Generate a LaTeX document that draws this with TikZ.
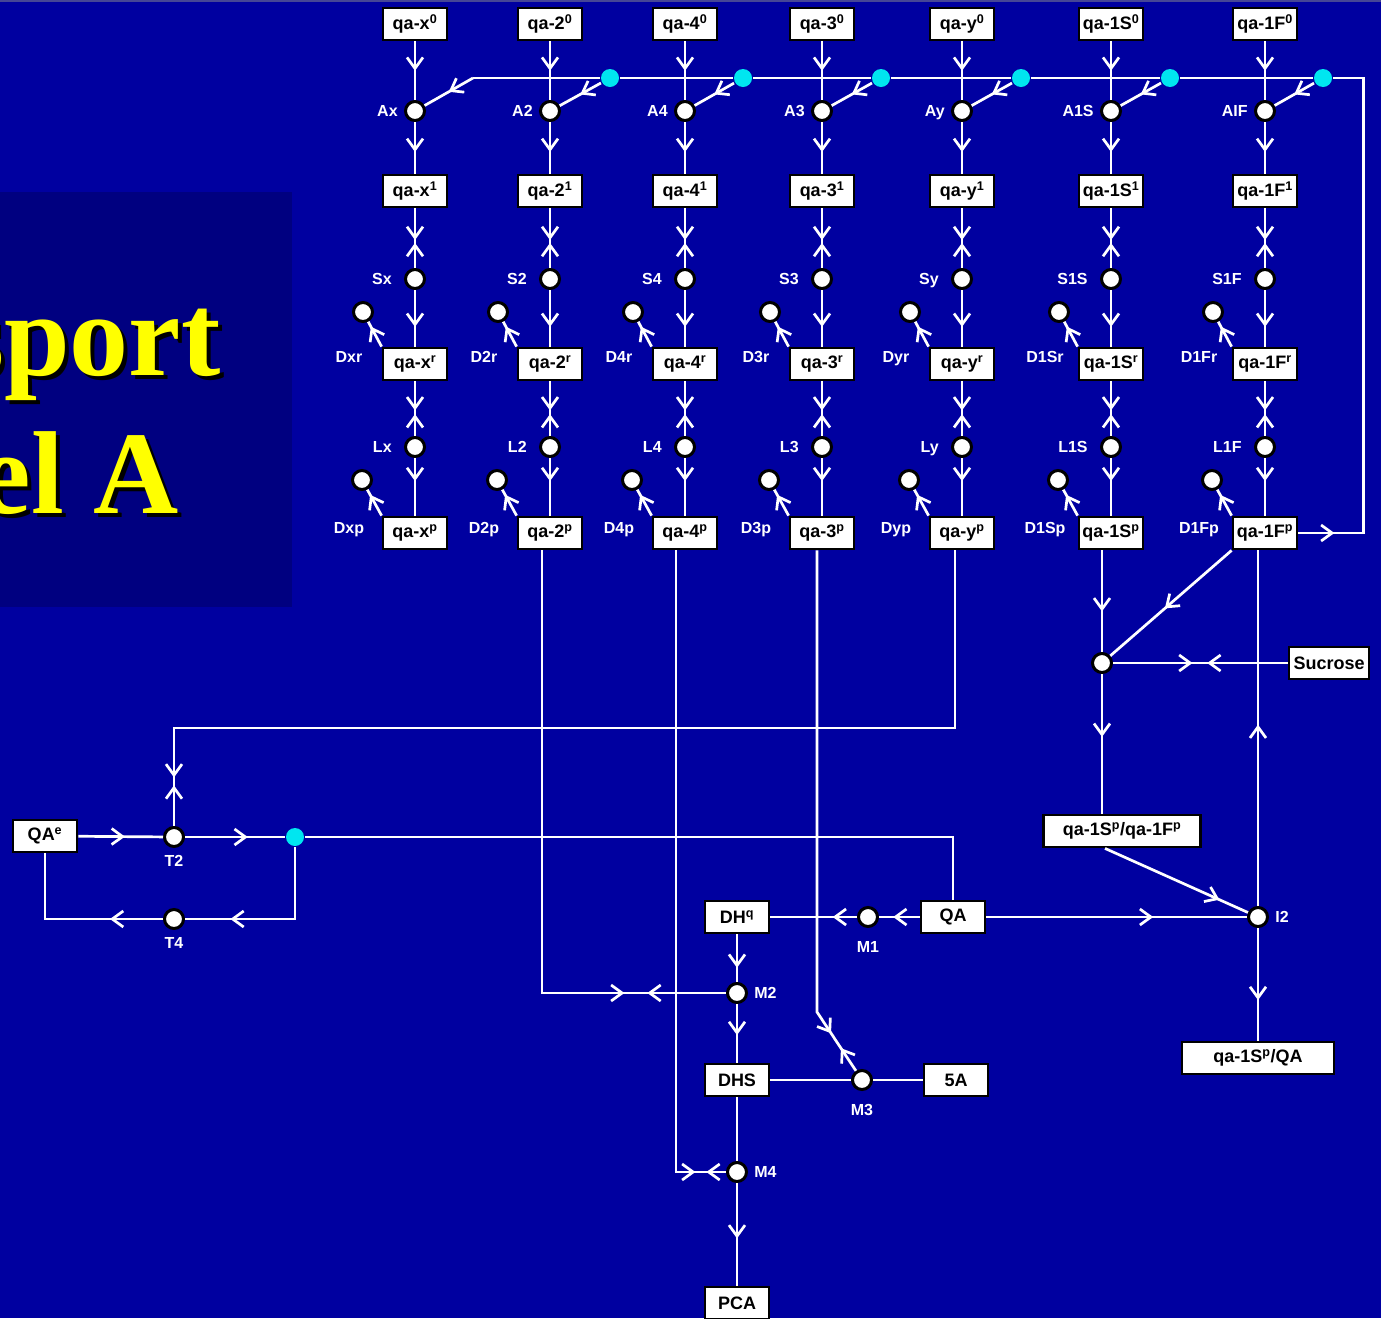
\documentclass[tikz,border=0pt]{standalone}
\usepackage{fontspec}
\setmainfont{Liberation Sans}
\newfontfamily\titlefont{Liberation Serif}
\usetikzlibrary{arrows.meta,decorations.markings}

\definecolor{slide}{RGB}{0,0,160}
\definecolor{panel}{RGB}{0,0,128}
\definecolor{edge}{RGB}{70,70,150}
\definecolor{cyanjn}{RGB}{0,230,240}
\definecolor{ttl}{RGB}{255,255,0}

\tikzset{
  fl/.style={postaction={decorate,decoration={markings,mark=at position #1 with {\arrow{>}}}}},
  rl/.style={postaction={decorate,decoration={markings,mark=at position #1 with {\arrowreversed{>}}}}},
  conv/.style 2 args={fl=#1, rl=#2},
}

\begin{document}
\begin{tikzpicture}[x=1pt, y=-1pt, line width=2.7pt, white,
    >={Straight Barb[length=11pt,width=16pt]},
    box/.style={draw=black, fill=white, text=black, line width=2.8pt, minimum width=64pt,
      minimum height=32pt, inner sep=3pt, font=\fontsize{18}{20}\selectfont\bfseries},
    dot/.style={circle, draw=black, fill=white, line width=3pt, minimum size=19pt, inner sep=0pt},
    junc/.style={circle, fill=cyanjn, minimum size=18pt, inner sep=0pt},
    lab/.style={text=white, inner sep=2pt, text height=11.5pt, text depth=0pt,
      font=\fontsize{16}{18}\selectfont\bfseries},
    la/.style={label={[lab,xshift=-3pt]left:#1}},
    ll/.style={label={[lab,xshift=-9pt]left:#1}},
    rr/.style={label={[lab,xshift=3pt]right:#1}},
    bb/.style={label={[lab,yshift=-10pt]below:#1}},
    bt/.style={label={[lab,yshift=-4pt]below:#1}},
    big/.style={anchor=base east, inner sep=0pt, font=\titlefont\fontsize{118}{126}\selectfont\bfseries}]
  \useasboundingbox (0,0) rectangle (1381,1318);
  \fill[slide] (0,0) rectangle (1381,1318);
  \fill[edge] (0,0) rectangle (1381,2);
  \fill[panel] (0,192) rectangle (292,607);

  % title
  \node[big, text=black] at (226,379) {sport};
  \node[big, text=ttl] (t1) at (222,375) {sport};
  \node[big, text=black] at (184,517) {el A};
  \node[big, text=ttl] (t2) at (180,513) {el A};

  % the seven gene columns
  \foreach \cx/\k/\ak/\jx/\js in {415/x/x/473/coordinate, 550/2/2/610/junc, 685/4/4/743/junc,
      822/3/3/881/junc, 962/y/y/1021/junc, 1111/1S/1S/1170/junc, 1265/1F/IF/1323/junc} {
    \node[box] (b0\k) at (\cx,24) {qa-\k\textsuperscript{0}};
    \node[dot, la=A\ak] (A\k) at (\cx,111) {};
    \node[box] (b1\k) at (\cx,191) {qa-\k\textsuperscript{1}};
    \node[dot, ll=S\k] (S\k) at (\cx,279) {};
    \node[box] (br\k) at (\cx,364) {qa-\k\textsuperscript{r}};
    \node[dot, ll=L\k] (L\k) at (\cx,447) {};
    \node[box] (bp\k) at (\cx,533) {qa-\k\textsuperscript{p}};
    \node[dot] (Dr\k) at (\cx-52,312) {};
    \node[lab] (lDr\k) at (\cx-66,357) {D\k r};
    \node[dot] (Dp\k) at (\cx-53,480) {};
    \node[lab] (lDp\k) at (\cx-66,528) {D\k p};
    \node[\js] (j\k) at (\jx,78) {};
    \draw[fl=0.5] (b0\k) -- (A\k);
    \draw[fl=0.58] (A\k) -- (b1\k);
    \draw[conv={0.53}{0.58}] (b1\k) -- (S\k);
    \draw[fl=0.65] (S\k) -- (br\k);
    \draw[conv={0.53}{0.6}] (br\k) -- (L\k);
    \draw[fl=0.4] (L\k) -- (bp\k);
    \draw[fl=0.8] (br\k.north west) -- (Dr\k);
    \draw[fl=0.8] (bp\k.north west) -- (Dp\k);
    \draw[fl=0.5] (j\k) -- (A\k);
  }
  \draw[fl=36pt] (bp1F.east) -- ++(65,0) |- (j1F);
  \draw (j1F) -- (j1S) -- (jy) -- (j3) -- (j4) -- (j2) -- (jx);

  % lower network
  \node[dot] (J) at (1102,663) {};
  \node[box, minimum width=80pt] (suc) at (1329,663) {Sucrose};
  \node[box, minimum width=157pt] (spf) at (1122,831) {qa-1S\textsuperscript{p}/qa-1F\textsuperscript{p}};
  \node[dot, rr=I2] (I2) at (1258,917) {};
  \node[box, minimum width=152pt] (spqa) at (1258,1058) {qa-1S\textsuperscript{p}/QA};
  \node[box] (QA) at (953,917) {QA};
  \node[dot, bb=M1] (M1) at (868,917) {};
  \node[box] (DHq) at (737,917) {DH\textsuperscript{q}};
  \node[dot, rr=M2] (M2) at (737,993) {};
  \node[box] (DHS) at (737,1080) {DHS};
  \node[dot, bb=M3] (M3) at (862,1080) {};
  \node[box] (sA) at (956,1080) {5A};
  \node[dot, rr=M4] (M4) at (737,1172) {};
  \node[box] (PCA) at (737,1303) {PCA};
  \node[box] (QA0) at (45,836) {QA\textsuperscript{e}};
  \node[dot, bt=T2] (T2) at (174,837) {};
  \node[dot, bt=T4] (T4) at (174,919) {};
  \node[junc] (jT) at (295,837) {};

  \draw[fl=0.6] (bp1S.south -| J) -- (J);
  \draw[fl=0.55] (bp1F.south west) -- (J);
  \draw[fl=0.51] (I2) -- (I2 |- bp1F.south);
  \draw[conv={0.455}{0.54}] (J) -- (suc);
  \draw[fl=0.45] (J) -- (J |- spf.north);
  \draw[fl=0.8] (1105,0 |- spf.south) -- (I2);
  \draw[fl=0.64] (QA) -- (I2);
  \draw[fl=0.64] (I2) -- (spqa);
  \draw[fl=0.65] (QA) -- (M1);
  \draw[fl=0.28] (M1) -- (DHq);
  \draw[fl=0.7] (DHq) -- (M2);
  \draw[fl=0.53] (M2) -- (DHS);
  \draw (DHS) -- (M3) -- (sA);
  \draw (DHS) -- (M4);
  \draw[fl=0.54] (M4) -- (PCA);
  \draw[conv={525pt}{548pt}] (542,0 |- bp2.south) |- (M2);
  \draw[conv={641pt}{652pt}] (676,0 |- bp4.south) |- (M4);
  \draw[conv={487pt}{505pt}] (817,0 |- bp3.south) -- (817,1012) -- (M3);
  \draw[conv={1008pt}{1016pt}] (955,0 |- bpy.south) -- (955,728) -| (T2);
  \draw[fl=0.55] (QA0) -- (T2);
  \draw[fl=0.63] (T2) -- (jT);
  \draw (jT) -| (QA);
  \draw[fl=0.75] (jT) |- (T4);
  \draw[fl=53pt] (T4) -| (QA0);
\end{tikzpicture}
\end{document}
